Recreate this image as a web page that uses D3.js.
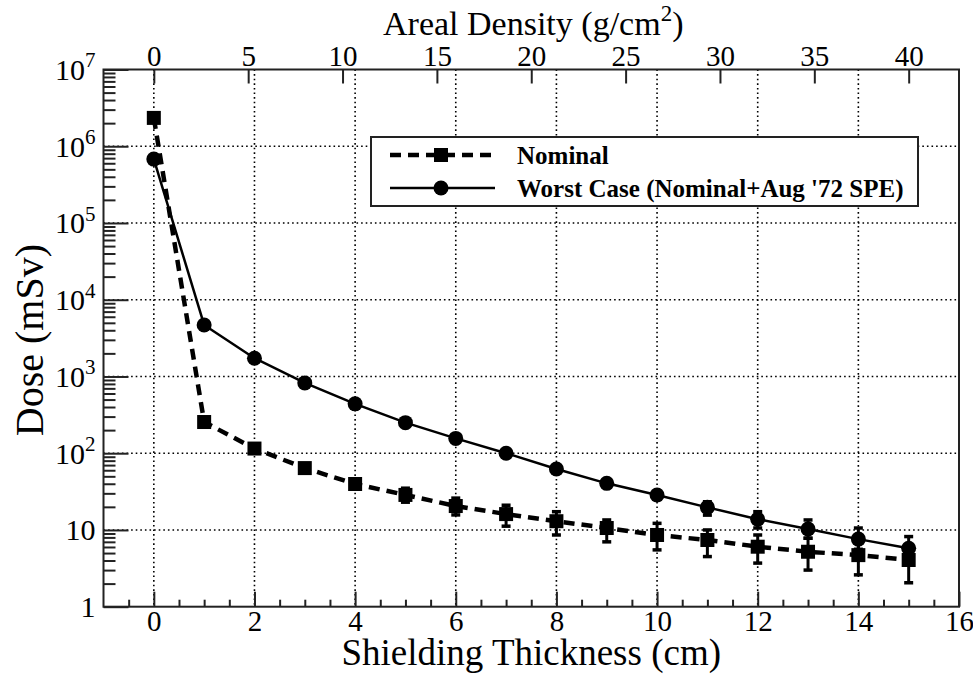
<!DOCTYPE html>
<html lang="en">
<head>
<meta charset="UTF-8">
<title>Dose vs Shielding Thickness</title>
<style>
  body { margin: 0; padding: 0; background: #fff; }
  svg { display: block; font-family: "Liberation Serif", "Times New Roman", serif; }
</style>
</head>
<body>
<svg id="chart"></svg>
<script src="https://cdn.jsdelivr.net/npm/d3@7"></script>
<script>
// data
const thickness = [0, 1, 2, 3, 4, 5, 6, 7, 8, 9, 10, 11, 12, 13, 14, 15];
const nominal = [2.34e6, 255, 115, 64, 39.7, 28.6, 20.5, 16.1, 13.0, 10.6, 8.6, 7.4, 6.05, 5.2, 4.7, 4.06];
const nominalHi = [null, null, null, null, 45, 35, 26, 21, 17.3, 13.5, 12.2, 10.0, 8.6, 7.8, 7.0, 5.8];
const nominalLo = [null, null, null, null, 35, 23, 15.7, 11.2, 8.6, 7.0, 5.5, 4.5, 3.7, 3.0, 2.6, 2.05];
const worst = [6.8e5, 4690, 1730, 824, 440, 250, 156, 100, 62.3, 40.5, 28.6, 19.7, 13.8, 10.3, 7.6, 5.77];
const worstHi = [null, null, null, null, null, null, null, null, null, null, 32, 23.3, 17.3, 13.5, 10.6, 8.2];
const worstLo = [null, null, null, null, null, null, null, null, null, null, 25, 15.6, 10.6, 7.8, 5.6, 3.7];

const xTicks = [0, 2, 4, 6, 8, 10, 12, 14, 16];
const topTicks = [0, 5, 10, 15, 20, 25, 30, 35, 40];
const yDecades = [0, 1, 2, 3, 4, 5, 6, 7];
const density = 8 / 3; // g/cm^3, maps thickness to areal density

const width = 973, height = 675;
const m = { left: 103.5, right: 959, top: 69.5, bottom: 606.7 };

const svg = d3.select("#chart").attr("width", width).attr("height", height);

const x = d3.scaleLinear().domain([-1, 16]).range([m.left, m.right]);
const xTop = d3.scaleLinear().domain([-1 * density, 16 * density]).range([m.left, m.right]);
const y = d3.scaleLog().domain([1, 1e7]).range([m.bottom, m.top]);

// grid
const grid = svg.append("g").attr("stroke", "#000").attr("stroke-width", 1.6)
  .attr("stroke-dasharray", "1.6,3");
grid.selectAll("line.v").data(xTicks.filter(d => d < 16)).join("line")
  .attr("class", "v")
  .attr("x1", d => x(d)).attr("x2", d => x(d))
  .attr("y1", m.top).attr("y2", m.bottom);
grid.selectAll("line.h").data(yDecades.filter(d => d > 0 && d < 7)).join("line")
  .attr("class", "h")
  .attr("x1", m.left).attr("x2", m.right)
  .attr("y1", d => y(Math.pow(10, d))).attr("y2", d => y(Math.pow(10, d)));

// series lines
const line = d3.line().x((d, i) => x(thickness[i])).y(d => y(d));
svg.append("path").datum(nominal).attr("d", line)
  .attr("fill", "none").attr("stroke", "#000").attr("stroke-width", 4.5)
  .attr("stroke-dasharray", "11,7");
svg.append("path").datum(worst).attr("d", line)
  .attr("fill", "none").attr("stroke", "#000").attr("stroke-width", 2.5);

// error bars
function errorBars(hi, lo) {
  const g = svg.append("g").attr("stroke", "#000");
  thickness.forEach((t, i) => {
    if (hi[i] == null) return;
    const cx = x(t);
    g.append("line").attr("x1", cx).attr("x2", cx)
      .attr("y1", y(hi[i])).attr("y2", y(lo[i])).attr("stroke-width", 3);
    [hi[i], lo[i]].forEach(v => {
      g.append("line").attr("x1", cx - 4.5).attr("x2", cx + 4.5)
        .attr("y1", y(v)).attr("y2", y(v)).attr("stroke-width", 3.5);
    });
  });
}
errorBars(nominalHi, nominalLo);
errorBars(worstHi, worstLo);

// markers
svg.append("g").selectAll("rect").data(nominal).join("rect")
  .attr("x", (d, i) => x(thickness[i]) - 7).attr("y", d => y(d) - 7)
  .attr("width", 14).attr("height", 14).attr("fill", "#000");
svg.append("g").selectAll("circle").data(worst).join("circle")
  .attr("cx", (d, i) => x(thickness[i])).attr("cy", d => y(d))
  .attr("r", 7.5).attr("fill", "#000");

// frame
svg.append("rect").attr("x", m.left).attr("y", m.top)
  .attr("width", m.right - m.left).attr("height", m.bottom - m.top)
  .attr("fill", "none").attr("stroke", "#222").attr("stroke-width", 2);

// bottom axis
svg.append("g").attr("transform", `translate(0,${m.bottom})`)
  .call(d3.axisBottom(x).tickValues(xTicks).tickSizeInner(-15).tickSizeOuter(0).tickPadding(4));
svg.append("g").attr("transform", `translate(0,${m.bottom})`)
  .call(d3.axisBottom(x).tickValues(d3.range(-0.5, 16, 0.5).filter(d => d % 2 !== 0))
    .tickSizeInner(-7).tickSizeOuter(0).tickFormat(""));

// top axis
svg.append("g").attr("transform", `translate(0,${m.top})`)
  .call(d3.axisTop(xTop).tickValues(topTicks).tickSizeInner(-14).tickSizeOuter(0).tickPadding(4));

// left axis: major and minor ticks pointing inward
const minorY = [];
yDecades.slice(0, -1).forEach(k => { for (let j = 2; j <= 9; j++) minorY.push(j * Math.pow(10, k)); });
svg.append("g").attr("transform", `translate(${m.left},0)`)
  .call(d3.axisRight(y).tickValues(yDecades.map(k => Math.pow(10, k))).tickSizeInner(25).tickSizeOuter(0).tickFormat(""));
svg.append("g").attr("transform", `translate(${m.left},0)`)
  .call(d3.axisRight(y).tickValues(minorY).tickSizeInner(12).tickSizeOuter(0).tickFormat(""));

svg.selectAll(".domain").remove();
svg.selectAll(".tick line").attr("stroke", "#222").attr("stroke-width", 2);
svg.selectAll(".tick text").attr("font-family", "Liberation Serif, serif").attr("font-size", 29).attr("fill", "#000");

// left tick labels with superscripts
const yLabels = svg.append("g").attr("font-size", 30).attr("text-anchor", "end");
yDecades.forEach(k => {
  const t = yLabels.append("text").attr("x", m.left - 8).attr("y", y(Math.pow(10, k))).attr("dy", "0.35em");
  if (k === 0) t.text("1");
  else if (k === 1) t.text("10");
  else {
    t.append("tspan").text("10");
    t.append("tspan").attr("font-size", 21).attr("dy", "-0.6em").text(k);
  }
});

// axis titles
svg.append("text").attr("x", x(7.5)).attr("y", 665).attr("text-anchor", "middle")
  .attr("font-size", 37).text("Shielding Thickness (cm)");
const tt = svg.append("text").attr("x", x(7.5) + 2).attr("y", 35).attr("text-anchor", "middle")
  .attr("font-size", 34);
tt.append("tspan").text("Areal Density (g/cm");
tt.append("tspan").attr("font-size", 23).attr("dy", "-0.6em").text("2");
tt.append("tspan").attr("dy", "0.4em").text(")");
svg.append("text").attr("transform", `translate(43,${(m.top + m.bottom) / 2 + 2}) rotate(-90)`)
  .attr("text-anchor", "middle").attr("font-size", 40).text("Dose (mSv)");

// legend
const lg = svg.append("g");
lg.append("rect").attr("x", 371).attr("y", 137).attr("width", 547).attr("height", 69)
  .attr("fill", "#fff").attr("stroke", "#222").attr("stroke-width", 2);
const rows = [
  { label: "Nominal", dash: "11,7", w: 4.5, shape: "square", yy: 155 },
  { label: "Worst Case (Nominal+Aug '72 SPE)", dash: null, w: 2.5, shape: "circle", yy: 188 }
];
rows.forEach(r => {
  lg.append("line").attr("x1", 390).attr("x2", 495).attr("y1", r.yy).attr("y2", r.yy)
    .attr("stroke", "#000").attr("stroke-width", r.w).attr("stroke-dasharray", r.dash);
  if (r.shape === "square") {
    lg.append("rect").attr("x", 434).attr("y", r.yy - 7).attr("width", 14).attr("height", 14).attr("fill", "#000");
  } else {
    lg.append("circle").attr("cx", 441).attr("cy", r.yy).attr("r", 7.5).attr("fill", "#000");
  }
  lg.append("text").attr("x", 517).attr("y", r.yy).attr("dy", "0.35em")
    .attr("font-size", 25).attr("font-weight", "bold").text(r.label);
});
</script>
</body>
</html>
